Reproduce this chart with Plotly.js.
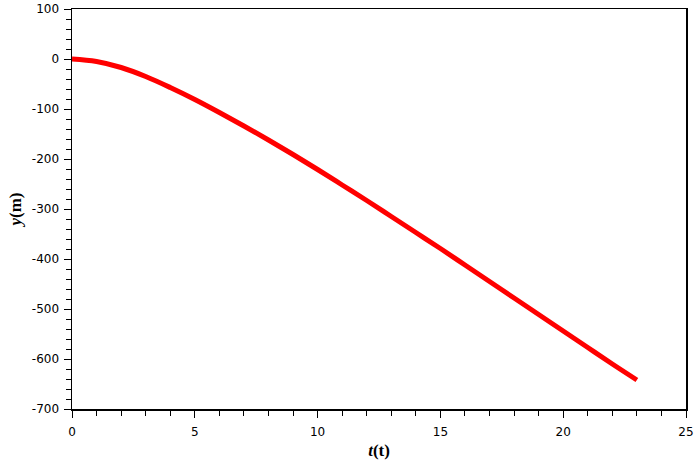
<!DOCTYPE html>
<html>
<head>
<meta charset="utf-8">
<script src="https://cdn.plot.ly/plotly-3.0.1.min.js"></script>
<style>html,body{margin:0;padding:0;background:#fff;}#chart{width:698px;height:467px;}</style>
</head>
<body>
<div id="chart"></div>
<script>
const tValues = [0,1,2,3,4,5,6,7,8,9,10,11,12,13,14,15,16,17,18,19,20,21,22,23];
const yValues = [0,-5,-17,-35,-57,-81,-107,-134,-162,-191,-221,-252,-283,-315,-347,-379,-412,-445,-478,-511,-544,-577,-610,-642];
const yTickVals = [100,0,-100,-200,-300,-400,-500,-600,-700];
const yTickLabels = ["100","0","-100","-200","-300","-400","-500","-600","-700"];
const xTickVals = [0,5,10,15,20,25];
const xTickLabels = ["0","5","10","15","20","25"];

const trace = {
  x: tValues, y: yValues, type: 'scatter', mode: 'lines',
  line: {color: '#ff0000', width: 5, shape: 'spline'},
  hoverinfo: 'skip'
};
const tickFont = {family: 'DejaVu Sans', size: 12, color: '#000'};
const layout = {
  width: 698, height: 467,
  margin: {l: 72, r: 12, t: 9, b: 58},
  paper_bgcolor: '#fff', plot_bgcolor: '#fff',
  showlegend: false,
  xaxis: {
    range: [0, 25], tickmode: 'array', tickvals: xTickVals, ticktext: xTickLabels,
    ticks: 'outside', ticklen: 7, tickwidth: 1, tickcolor: '#000',
    minor: {dtick: 1, ticks: 'outside', ticklen: 5, tickwidth: 1, tickcolor: '#000'},
    showline: true, linecolor: '#000', linewidth: 1.5, mirror: true,
    showgrid: false, zeroline: false, tickfont: tickFont, ticklabelstandoff: 4,
    title: {text: '<b><i>t</i>(t)</b>', font: {family: 'Liberation Serif', size: 17, color: '#000'}, standoff: 6}
  },
  yaxis: {
    range: [-700, 100], tickmode: 'array', tickvals: yTickVals, ticktext: yTickLabels,
    ticks: 'outside', ticklen: 7, tickwidth: 1, tickcolor: '#000',
    minor: {dtick: 20, ticks: 'outside', ticklen: 5, tickwidth: 1, tickcolor: '#000'},
    showline: true, linecolor: '#000', linewidth: 1.5, mirror: true,
    showgrid: false, zeroline: false, tickfont: tickFont, ticklabelstandoff: 2,
    title: {text: '<b><i>y</i>(m)</b>', font: {family: 'Liberation Serif', size: 17, color: '#000'}, standoff: 6}
  }
};
Plotly.newPlot('chart', [trace], layout, {staticPlot: true, displayModeBar: false});
</script>
</body>
</html>
